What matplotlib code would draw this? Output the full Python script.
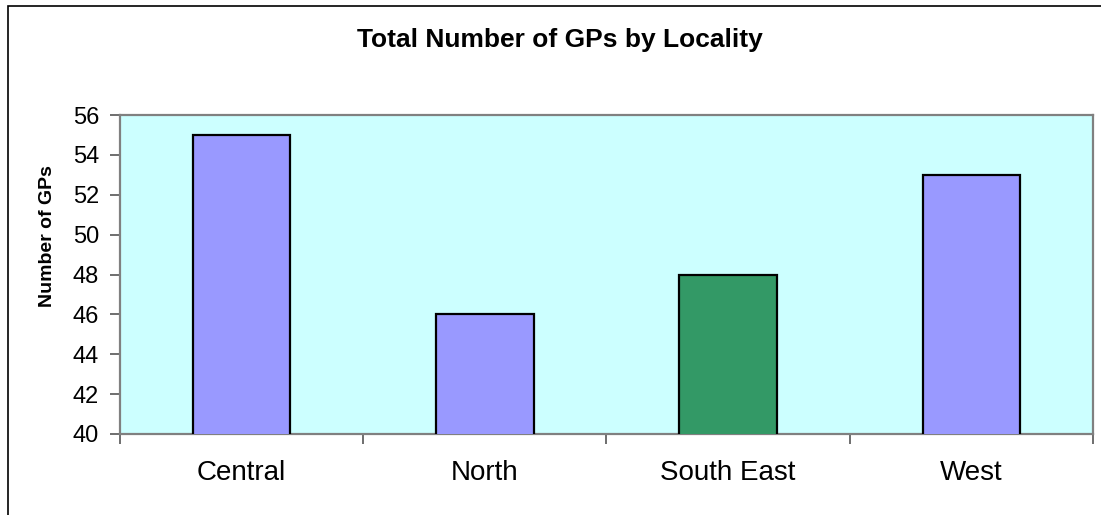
import matplotlib
matplotlib.use('Agg')
import matplotlib.pyplot as plt
from matplotlib.patches import Rectangle

plt.rcParams['font.family'] = ['Liberation Sans', 'DejaVu Sans']

localities = ['Central', 'North', 'South East', 'West']
gp_counts = [55, 46, 48, 53]
bar_colors = ['#9999FF', '#9999FF', '#339966', '#9999FF']
y_ticks = [40, 42, 44, 46, 48, 50, 52, 54, 56]

W, H = 1101, 515
fig = plt.figure(figsize=(W / 100, H / 100), dpi=100)
ax = fig.add_axes([120 / W, 1 - 434 / H, (1093 - 120) / W, (434 - 115) / H])
ax.set_facecolor('#CCFFFF')

x = list(range(len(localities)))
ax.bar(x, gp_counts, width=0.4, bottom=0, color=bar_colors,
       edgecolor='black', linewidth=1.6, zorder=3)

ax.set_ylim(y_ticks[0], y_ticks[-1])
ax.set_yticks(y_ticks)
ax.set_xlim(-0.5, len(localities) - 0.5)
ax.set_xticks(x)
ax.set_xticklabels(localities, fontsize=20)
ax.set_xticks([i - 0.5 for i in range(len(localities) + 1)], minor=True)
ax.tick_params(axis='x', which='major', length=0, pad=19)
ax.tick_params(axis='x', which='minor', length=7, width=1.2, color='#555555', direction='out')
ax.tick_params(axis='y', length=7, width=1.2, color='#555555', pad=8, labelsize=17)

for side in ['top', 'right', 'left', 'bottom']:
    ax.spines[side].set_color('#808080')
    ax.spines[side].set_linewidth(1.6)

fig.text(560 / W, 1 - 40 / H, 'Total Number of GPs by Locality',
         fontsize=19, fontweight='bold', ha='center', va='center')
fig.text(47 / W, 1 - 236 / H, 'Number of GPs', rotation=90,
         fontsize=14, fontweight='bold', ha='center', va='center')

# outer chart border (runs off the right/bottom edge)
fig.patches.append(Rectangle((8 / W, -0.1), 1.2, 1 - 6 / H + 0.1,
                             transform=fig.transFigure, fill=False,
                             edgecolor='black', linewidth=1.2))

fig.savefig('out.png', dpi=100)
